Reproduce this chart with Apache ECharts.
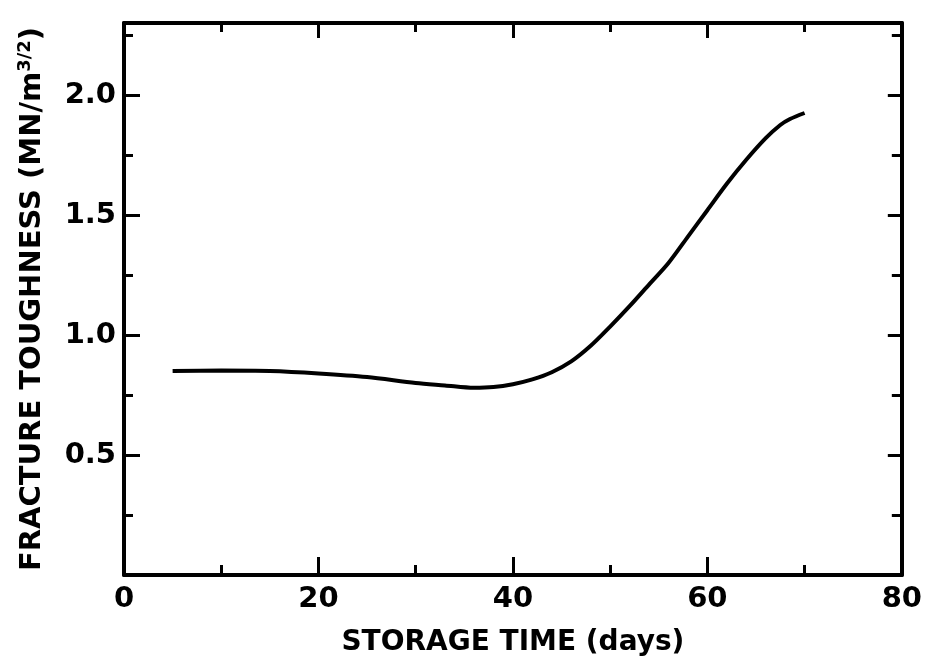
<!DOCTYPE html>
<html>
<head>
<meta charset="utf-8">
<script src="https://cdn.jsdelivr.net/npm/echarts@6/dist/echarts.min.js"></script>
<style>
  html, body { margin: 0; padding: 0; background: #fff; }
  #chart { width: 925px; height: 662px; }
</style>
</head>
<body>
<div id="chart"></div>
<script>
// storage time (days) vs fracture toughness
var days = [5, 10, 15, 20, 25, 30, 33, 36, 38, 40, 42, 44, 46, 48, 50, 52, 54, 56, 58, 60, 62, 64, 66, 67.5, 68.5, 70];
var toughness = [0.85, 0.852, 0.85, 0.84, 0.825, 0.80, 0.79, 0.78, 0.783, 0.795, 0.815, 0.845, 0.89, 0.955, 1.035, 1.12, 1.21, 1.30, 1.41, 1.52, 1.63, 1.73, 1.82, 1.875, 1.90, 1.925];

var xTitle = 'STORAGE TIME (days)';
var yTitle = 'FRACTURE TOUGHNESS (MN/m';
var ySup = '3/2';

var ink = '#000';
var font = 'DejaVu Sans';

var points = days.map(function (d, i) { return [d, toughness[i]]; });

var chart = echarts.init(document.getElementById('chart'));

var baseX = {
    type: 'value', min: 0, max: 80, interval: 20,
    axisLine: { show: true, onZero: false, lineStyle: { color: ink, width: 4 } },
    splitLine: { show: false }
};
var baseY = {
    type: 'value', min: 0, max: 2.3, interval: 0.5,
    axisLine: { show: true, onZero: false, lineStyle: { color: ink, width: 4 } },
    splitLine: { show: false }
};

chart.setOption({
    backgroundColor: '#fff',
    animation: false,
    grid: { left: 124, right: 23, top: 23, bottom: 87 },
    xAxis: [
        Object.assign({}, baseX, {
            position: 'bottom',
            axisTick: { inside: true, length: 18, lineStyle: { color: ink, width: 3 } },
            minorTick: { show: true, splitNumber: 2, length: 10, lineStyle: { color: ink, width: 3 } },
            axisLabel: { color: ink, fontFamily: font, fontWeight: 'bold', fontSize: 29, margin: 10 },
            name: xTitle, nameLocation: 'middle', nameGap: 54,
            nameTextStyle: { color: ink, fontFamily: font, fontWeight: 'bold', fontSize: 28 }
        }),
        Object.assign({}, baseX, {
            position: 'top',
            axisTick: { inside: true, length: 15, lineStyle: { color: ink, width: 3 } },
            minorTick: { show: true, splitNumber: 2, length: 9, lineStyle: { color: ink, width: 3 } },
            axisLabel: { show: false }
        })
    ],
    yAxis: [
        Object.assign({}, baseY, {
            position: 'left',
            axisTick: { inside: true, length: 16, lineStyle: { color: ink, width: 3 } },
            minorTick: { show: true, splitNumber: 2, length: 9, lineStyle: { color: ink, width: 3 } },
            axisLabel: {
                color: ink, fontFamily: font, fontWeight: 'bold', fontSize: 29, margin: 8,
                formatter: function (v) { return (v === 0 || v > 2.05) ? '' : v.toFixed(1); }
            },
            name: yTitle + '{sup|' + ySup + '})', nameLocation: 'middle', nameGap: 76,
            nameRotate: 90,
            nameTextStyle: {
                color: ink, fontFamily: font, fontWeight: 'bold', fontSize: 29,
                rich: {
                    sup: { color: ink, fontFamily: font, fontWeight: 'bold', fontSize: 18, verticalAlign: 'top', padding: [0, 0, 14, 0] }
                }
            }
        }),
        Object.assign({}, baseY, {
            position: 'right',
            axisTick: { inside: true, length: 14, lineStyle: { color: ink, width: 3 } },
            minorTick: { show: true, splitNumber: 2, length: 10, lineStyle: { color: ink, width: 3 } },
            axisLabel: { show: false }
        })
    ],
    series: [{
        type: 'line',
        data: points,
        smooth: 0.3,
        showSymbol: false,
        lineStyle: { color: ink, width: 4 }
    }]
});
</script>
</body>
</html>
